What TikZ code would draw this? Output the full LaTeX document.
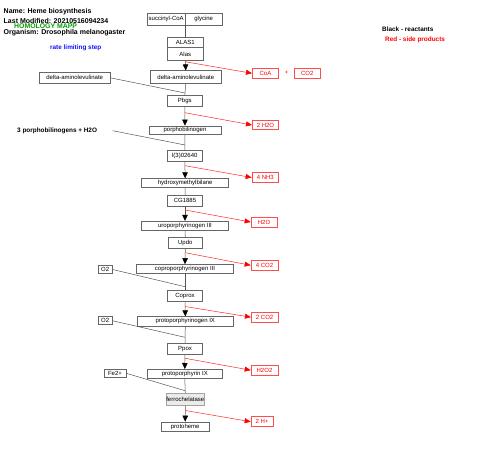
\documentclass[tikz,border=0pt]{standalone}
\usepackage{fontspec}
\setmainfont{Liberation Sans}
\usetikzlibrary{arrows.meta}
\definecolor{boxgray}{HTML}{666666}
\definecolor{linegray}{HTML}{555555}
\definecolor{sidered}{HTML}{FF0000}
\definecolor{homgreen}{HTML}{00A000}
\definecolor{rateblue}{HTML}{1010FF}
\tikzset{
  box/.style={draw=boxgray, line width=0.6pt, inner sep=0pt, font=\fontsize{6}{7}\selectfont, text=black},
  redbox/.style={draw=sidered!70, line width=0.6pt, inner sep=0pt, font=\fontsize{6}{7}\selectfont, text=sidered},
  conn/.style={draw=linegray, line width=0.5pt},
  mainarrow/.style={draw=linegray, line width=0.5pt, -{Triangle[length=6pt,width=5.5pt,color=black]}},
  redline/.style={draw=sidered!85, line width=0.5pt, -{Triangle[length=6pt,width=5pt,color=sidered]}},
  hdr/.style={anchor=west, inner sep=0pt, font=\bfseries\fontsize{7}{8}\selectfont},
  small/.style={anchor=west, inner sep=0pt, font=\bfseries\fontsize{6.4}{7.5}\selectfont}
}
\begin{document}
\begin{tikzpicture}[x=1pt,y=-1pt]
\useasboundingbox (0,0) rectangle (480,449);

% header
\node[hdr] (hname) at (3.5,11.5) {Name: Heme biosynthesis};
\node[hdr] (hmod) at (3.5,21.5) {Last Modified: 20210516094234};
\node[hdr, text=homgreen, font=\bfseries\fontsize{6.9}{8}\selectfont] (hhom) at (14,26) {HOMOLOGY MAPP};
\node[hdr] (horg) at (3.5,33) {Organism: Drosophila melanogaster};
\node[small, text=rateblue] (rate) at (50,47.5) {rate limiting step};
\node[small] (leg1) at (382,29.5) {Black - reactants};
\node[small, text=sidered] (leg2) at (385,40) {Red - side products};

% main column
\node[box, minimum width=37.7, minimum height=11.7] (succ) at (166.2,19.2) {succinyl-CoA};
\node[box, minimum width=37.3, minimum height=11.7] (gly) at (203.7,19.2) {glycine};
\node[box, minimum width=35.3, minimum height=10.4] (alas1) at (185.3,42.5) {ALAS1};
\node[box, minimum width=35.3, minimum height=12.3] (alas) at (185.3,53.9) {Alas};
\node[box, minimum width=71.7, minimum height=12.6] (ala) at (185.8,77) {delta-aminolevulinate};
\node[box, minimum width=70.7, minimum height=11] (alaL) at (74.7,77.8) {delta-aminolevulinate};
\node[box, minimum width=35, minimum height=10.6] (pbgs) at (184.8,101) {Pbgs};
\node[box, minimum width=72, minimum height=8.7] (pbg) at (185,130.3) {porphobilinogen};
\node[small] (p3) at (17,130.7) {3 porphobilinogens + H2O};
\node[box, minimum width=35, minimum height=10.3] (l3) at (184.8,155.8) {l(3)02640};
\node[box, minimum width=87, minimum height=8.7] (hmb) at (185.2,183) {hydroxymethylbilane};
\node[box, minimum width=34.6, minimum height=10.3] (cg) at (185,200.8) {CG1885};
\node[box, minimum width=86.5, minimum height=9.3] (uro) at (185,225.8) {uroporphyrinogen III};
\node[box, minimum width=34, minimum height=11.3] (updo) at (185.3,243) {Updo};
\node[box, minimum width=97.3, minimum height=8.6] (copro) at (185,268.8) {coproporphyrinogen III};
\node[box, minimum width=14.3, minimum height=8.5] (o2a) at (105.2,269.5) {O2};
\node[box, minimum width=34.6, minimum height=11.3] (coprox) at (185,295.7) {Coprox};
\node[box, minimum width=96.7, minimum height=9.3] (protogen) at (185.3,321.3) {protoporphyrinogen IX};
\node[box, minimum width=14.3, minimum height=8] (o2b) at (105.2,320.8) {O2};
\node[box, minimum width=34.6, minimum height=11] (ppox) at (185,348.8) {Ppox};
\node[box, minimum width=75, minimum height=9] (protoix) at (184.8,373.8) {protoporphyrin IX};
\node[box, minimum width=22, minimum height=8.4] (fe) at (115,373.3) {Fe2+};
\node[box, draw=boxgray!60, fill=black!8, minimum width=36, minimum height=12] (ferro) at (185.3,399.3) {ferrochelatase};
\node[box, minimum width=47.7, minimum height=9] (heme) at (185.2,426.5) {protoheme};

% side products
\node[redbox, minimum width=26.4, minimum height=10] (coa) at (265.5,73.3) {CoA};
\node[anchor=center, inner sep=0pt, text=sidered, font=\fontsize{6}{7}\selectfont] (plus) at (286.7,72.7) {+};
\node[redbox, minimum width=26.7, minimum height=10] (co2) at (307.3,73.3) {CO2};
\node[redbox, minimum width=26.4, minimum height=9.4] (h2o2x) at (265.5,125) {2 H2O};
\node[redbox, minimum width=26.7, minimum height=10.4] (nh3) at (265.3,177.5) {4 NH3};
\node[redbox, minimum width=26, minimum height=10] (h2o) at (264,222) {H2O};
\node[redbox, minimum width=27, minimum height=10] (co2a) at (264.5,265.3) {4 CO2};
\node[redbox, minimum width=26.7, minimum height=9.7] (co2b) at (264.6,317.2) {2 CO2};
\node[redbox, minimum width=27, minimum height=9.7] (h2o2) at (264.5,370.2) {H2O2};
\node[redbox, minimum width=22, minimum height=10] (hplus) at (262,421.7) {2 H+};

% junction / free-end coordinates
\coordinate (j1) at (185,93);
\coordinate (s2) at (112.7,130.7);
\coordinate (j2) at (185,145);
\coordinate (j3) at (185,286.7);
\coordinate (s4) at (112.3,321.7);
\coordinate (j4) at (185,337.3);
\coordinate (j5) at (185,390.7);
\coordinate (r1) at (185,61.7);
\coordinate (r2) at (185,112.7);
\coordinate (r3) at (185,165.7);
\coordinate (r4) at (185,210);
\coordinate (r5) at (185.3,252.7);
\coordinate (r6) at (185,306.5);
\coordinate (r7) at (185,358.3);
\coordinate (r8) at (185.3,410.5);

% reactant lines
\draw[conn] (succ.south east) -- (succ.south east |- alas1.north);
\draw[conn] (ala.south) -- (pbgs.north);
\draw[conn] (alaL.east) -- (j1);
\draw[conn] (pbg.south) -- (l3.north);
\draw[conn] (s2) -- (j2);
\draw[conn] (hmb.south) -- (cg.north);
\draw[conn] (uro.south) -- (updo.north);
\draw[conn] (copro.south) -- (coprox.north);
\draw[conn] (o2a.east) -- (j3);
\draw[conn] (protogen.south) -- (ppox.north);
\draw[conn] (o2b.east) -- (j4);
\draw[conn] (protoix.south) -- (ferro.north);
\draw[conn] (fe.east) -- (j5);

% main arrows
\draw[mainarrow] (alas.south) -- (ala.north);
\draw[mainarrow] (pbgs.south) -- (pbg.north);
\draw[mainarrow] (l3.south) -- (hmb.north);
\draw[mainarrow] (cg.south) -- (uro.north);
\draw[mainarrow] (updo.south) -- (copro.north);
\draw[mainarrow] (coprox.south) -- (protogen.north);
\draw[mainarrow] (ppox.south) -- (protoix.north);
\draw[mainarrow] (ferro.south) -- (heme.north);

% side product arrows
\draw[redline] (r1) -- (coa.west);
\draw[redline] (r2) -- (h2o2x.west);
\draw[redline] (r3) -- (nh3.west);
\draw[redline] (r4) -- (h2o.west);
\draw[redline] (r5) -- (co2a.west);
\draw[redline] (r6) -- (co2b.west);
\draw[redline] (r7) -- (h2o2.west);
\draw[redline] (r8) -- (hplus.west);
\end{tikzpicture}
\end{document}
